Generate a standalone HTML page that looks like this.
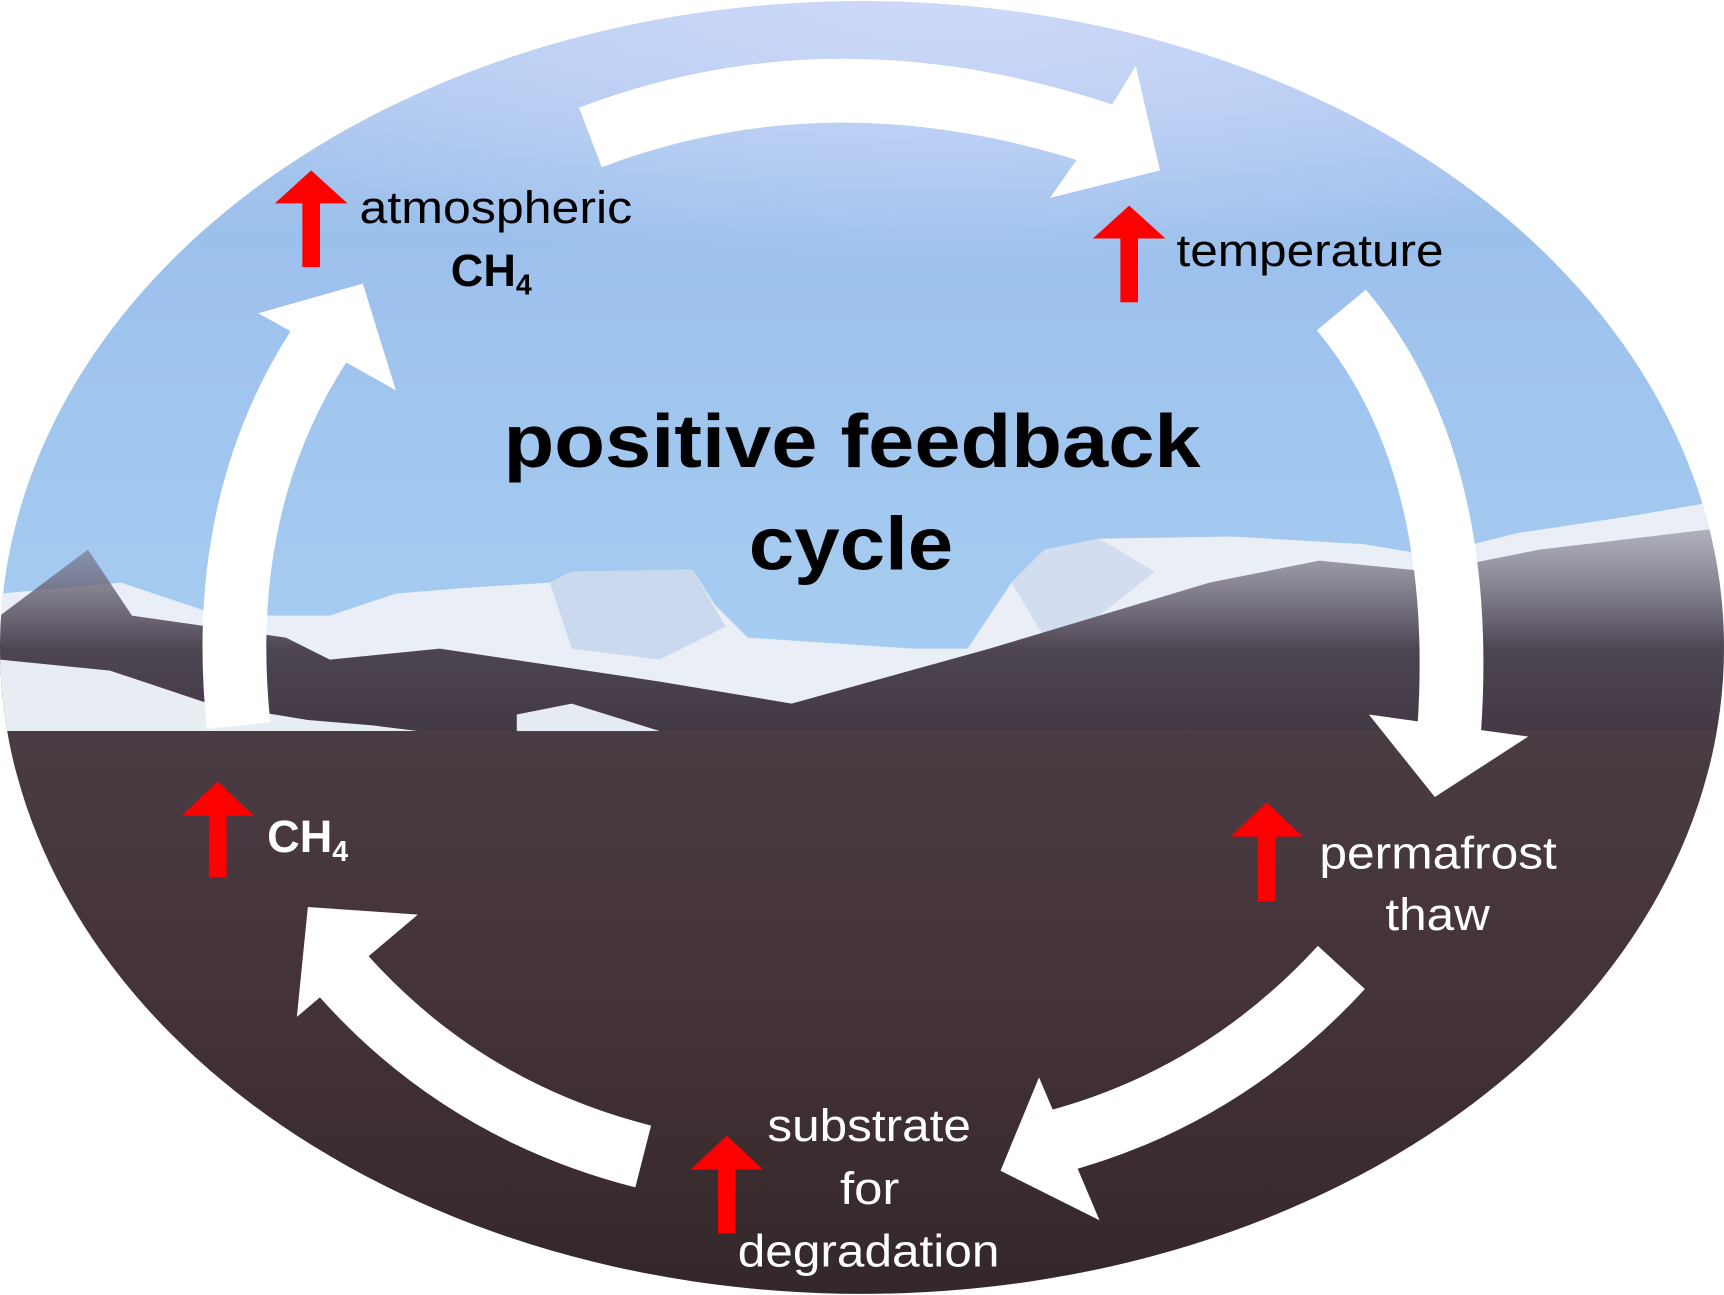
<!DOCTYPE html>
<html><head><meta charset="utf-8"><style>
html,body{margin:0;padding:0;background:#fff;}
svg{display:block;}
text{font-family:"Liberation Sans",Arial,sans-serif;}
</style></head><body>
<svg width="1724" height="1295" viewBox="0 0 1568 1178" preserveAspectRatio="none" xmlns="http://www.w3.org/2000/svg">
<defs>
<clipPath id="c"><ellipse cx="784" cy="589" rx="784" ry="588"/></clipPath>
<linearGradient id="sky" x1="0" y1="0" x2="0" y2="1">
<stop offset="0" stop-color="#b9cdf2"/><stop offset="0.3" stop-color="#9cc0ec"/><stop offset="1" stop-color="#a9d0f3"/></linearGradient>
<radialGradient id="glow" cx="0.55" cy="0" r="0.5"><stop offset="0" stop-color="#cdd9f8"/><stop offset="1" stop-color="#cdd9f8" stop-opacity="0"/></radialGradient>
<linearGradient id="gr" x1="0" y1="0" x2="0" y2="1">
<stop offset="0" stop-color="#4a3c44"/><stop offset="0.5" stop-color="#433236"/><stop offset="1" stop-color="#33272a"/></linearGradient>
<linearGradient id="tr" x1="0" y1="0" x2="0" y2="1">
<stop offset="0" stop-color="#7a7488" stop-opacity="0.5"/><stop offset="0.5" stop-color="#4e4552"/><stop offset="1" stop-color="#3e3440"/></linearGradient>
</defs>
<g clip-path="url(#c)">
<rect x="0" y="0" width="1568" height="700" fill="url(#sky)"/>
<rect x="0" y="0" width="1568" height="500" fill="url(#glow)"/>
<polygon points="0,540 110,530 200,560 300,560 360,540 420,535 500,530 520,520 630,518 650,550 680,580 830,590 880,590 920,530 950,500 1000,490 1120,488 1240,495 1300,505 1380,485 1480,470 1568,455 1568,700 0,700" fill="#e9eef7"/>
<polygon points="500,530 520,520 630,518 660,570 600,600 520,590" fill="#cbd9ee"/>
<polygon points="920,530 950,500 1000,490 1050,520 1000,560 950,580" fill="#d2deef"/>
<polygon points="0,560 80,500 120,560 260,580 300,600 400,590 600,620 720,640 900,590 1000,560 1100,530 1200,510 1300,520 1400,500 1568,480 1568,700 0,700" fill="url(#tr)"/>
<polygon points="0,600 100,610 190,640 280,655 340,660 380,665 0,665" fill="#e8ecf3"/>
<polygon points="470,650 520,640 600,665 470,668" fill="#e6eaf2"/>
<polygon points="960,672 1080,665 1250,672 1568,678 1568,688 960,680" fill="#e6eaf2"/>
<rect x="0" y="665" width="1568" height="520" fill="url(#gr)"/>
</g>
<g fill="none" stroke="#fff" stroke-width="58">
<path d="M537,125 Q760,40 1010,125"/>
<path d="M1220,282 Q1335,420 1318,665"/>
<path d="M1220,880 Q1110,1000 955,1040"/>
<path d="M585,1052 Q420,1010 310,885"/>
<path d="M217,660 Q195,450 300,300"/>
</g>
<g fill="#fff">
<polygon points="1033,60 1055,155 955,180 990,130"/>
<polygon points="1245,650 1390,670 1305,725"/>
<polygon points="945,980 1000,1110 910,1065"/>
<polygon points="270,925 280,825 380,832"/>
<polygon points="235,285 330,258 360,355"/>
</g>
<g fill="#f00">
<rect x="275" y="180" width="16" height="63"/><polygon points="250,185 283,155 316,185"/>
<rect x="1019" y="213" width="16" height="62"/><polygon points="994,217 1027,187 1060,217"/>
<rect x="1144" y="757" width="16" height="63"/><polygon points="1119,761 1152,730 1185,761"/>
<rect x="190" y="738" width="16" height="60"/><polygon points="165,742 198,711 231,742"/>
<rect x="653" y="1060" width="16" height="62"/><polygon points="628,1064 661,1033 694,1064"/>
</g>
<g font-size="41">
<text x="327" y="203" fill="#000" textLength="248" lengthAdjust="spacingAndGlyphs">atmospheric</text>
<text x="410" y="260" fill="#000" font-weight="bold">CH<tspan font-size="26" dy="8">4</tspan></text>
<text x="1070" y="242" fill="#000" textLength="243" lengthAdjust="spacingAndGlyphs">temperature</text>
<text x="243" y="775" fill="#fff" font-weight="bold">CH<tspan font-size="26" dy="8">4</tspan></text>
<text x="1200" y="790" fill="#fff" textLength="216" lengthAdjust="spacingAndGlyphs">permafrost</text>
<text x="1260" y="846" fill="#fff" textLength="95" lengthAdjust="spacingAndGlyphs">thaw</text>
<text x="698" y="1038" fill="#fff" textLength="185" lengthAdjust="spacingAndGlyphs">substrate</text>
<text x="764" y="1095" fill="#fff" textLength="54" lengthAdjust="spacingAndGlyphs">for</text>
<text x="671" y="1152" fill="#fff" textLength="238" lengthAdjust="spacingAndGlyphs">degradation</text>
</g>
<text x="458" y="425" font-size="68" font-weight="bold" fill="#000" textLength="634" lengthAdjust="spacingAndGlyphs">positive feedback</text>
<text x="681" y="518" font-size="68" font-weight="bold" fill="#000" textLength="186" lengthAdjust="spacingAndGlyphs">cycle</text>
</svg>
</body></html>
